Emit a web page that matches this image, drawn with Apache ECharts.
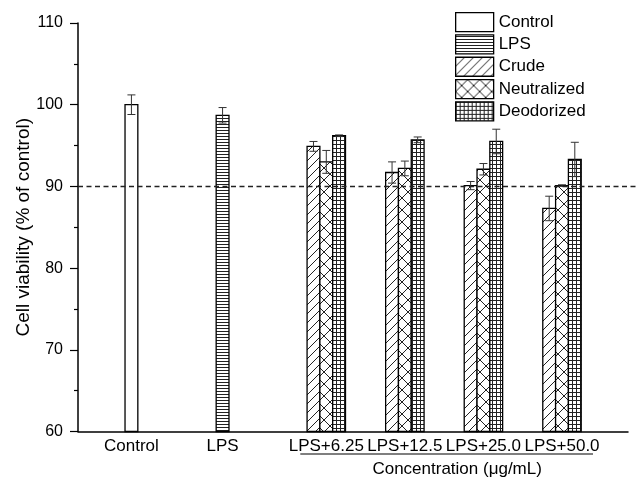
<!DOCTYPE html>
<html>
<head>
<meta charset="utf-8">
<script src="https://cdn.jsdelivr.net/npm/echarts@6/dist/echarts.min.js"></script>
<style>
html,body{margin:0;padding:0;background:#fff;}
#chart{width:638px;height:479px;}
</style>
</head>
<body>
<div id="chart"></div>
<script>
// ---- data ----
const categories = ['Control', 'LPS', 'LPS+6.25', 'LPS+12.5', 'LPS+25.0', 'LPS+50.0'];
const seriesNames = ['Control', 'LPS', 'Crude', 'Neutralized', 'Deodorized'];
const controlVal = [100.0];
const controlErr = [1.2];
const lpsVal = [98.7];
const lpsErr = [0.95];
const crudeVal = [94.9, 91.7, 90.1, 87.3];
const crudeErr = [0.6, 1.3, 0.5, 1.5];
const neutVal = [93.0, 92.2, 92.1, 90.1];
const neutErr = [1.4, 0.9, 0.7, 0.1];
const deodVal = [96.2, 95.7, 95.5, 93.3];
const deodErr = [0.1, 0.35, 1.5, 2.1];
const refValue = 90;
const yTicks = [60, 70, 80, 90, 100, 110];
const groupTitle = 'Concentration (\u03bcg/mL)';

// ---- layout (not data) ----
const xPos = [0.52, 1.68, 3, 4, 5, 6];
const barW = 0.163;
const FONT = "'Liberation Sans', Arial, sans-serif";

function makePattern(kind) {
  const c = document.createElement('canvas');
  let s = 4;
  if (kind === 'hline') s = 3;
  if (kind === 'diag') s = 9;
  if (kind === 'cross') s = 12;
  if (kind === 'grid') s = 4;
  c.width = s; c.height = s;
  const g = c.getContext('2d');
  g.fillStyle = '#fff';
  g.fillRect(0, 0, s, s);
  g.strokeStyle = '#222';
  g.lineWidth = 1;
  g.beginPath();
  if (kind === 'hline') {
    g.moveTo(0, 1.5); g.lineTo(s, 1.5);
  } else if (kind === 'diag') {
    g.moveTo(-1, s + 1); g.lineTo(s + 1, -1);
    g.moveTo(-1, 1); g.lineTo(1, -1);
    g.moveTo(s - 1, s + 1); g.lineTo(s + 1, s - 1);
  } else if (kind === 'cross') {
    g.moveTo(0, 0); g.lineTo(s, s);
    g.moveTo(0, s); g.lineTo(s, 0);
  } else if (kind === 'grid') {
    g.moveTo(0.5, 0); g.lineTo(0.5, s);
    g.moveTo(0, 0.5); g.lineTo(s, 0.5);
  }
  g.stroke();
  return { image: c, repeat: 'repeat' };
}

const patterns = [makePattern('none'), makePattern('hline'), makePattern('diag'), makePattern('cross'), makePattern('grid')];

function rows(catIdx, vals, errs, offset) {
  return vals.map((v, i) => [catIdx[i], v, errs[i], offset]);
}
const seriesData = [
  rows([0], controlVal, controlErr, 0),
  rows([1], lpsVal, lpsErr, 0),
  rows([2, 3, 4, 5], crudeVal, crudeErr, -1),
  rows([2, 3, 4, 5], neutVal, neutErr, 0),
  rows([2, 3, 4, 5], deodVal, deodErr, 1)
];

function makeRender(si) {
  return function (params, api) {
    const ci = api.value(0), v = api.value(1), e = api.value(2), off = api.value(3);
    const base = api.coord([xPos[ci], 60]);
    const top = api.coord([xPos[ci], v]);
    const w = api.size([barW, 0])[0];
    const cx = base[0] + off * w;
    const eh = api.coord([xPos[ci], v + e])[1];
    const el = api.coord([xPos[ci], v - e])[1];
    const cap = 4;
    const lineStyle = { stroke: '#333', lineWidth: 1 };
    return {
      type: 'group',
      children: [
        { type: 'rect', shape: { x: cx - w / 2, y: top[1], width: w, height: base[1] - top[1] },
          style: { fill: patterns[si], stroke: '#000', lineWidth: 1.3 } },
        { type: 'line', shape: { x1: cx, y1: eh, x2: cx, y2: el }, style: lineStyle },
        { type: 'line', shape: { x1: cx - cap, y1: eh, x2: cx + cap, y2: eh }, style: lineStyle },
        { type: 'line', shape: { x1: cx - cap, y1: el, x2: cx + cap, y2: el }, style: lineStyle }
      ]
    };
  };
}

const series = seriesNames.map((name, si) => ({
  name: name,
  type: 'custom',
  renderItem: makeRender(si),
  data: seriesData[si],
  itemStyle: { color: patterns[si], borderColor: '#000', borderWidth: 1.3 },
  encode: { x: 0, y: 1 },
  z: 2
}));

series.push({
  name: 'ref',
  type: 'custom',
  data: [[refValue]],
  z: 5,
  silent: true,
  renderItem: function (params, api) {
    const y = api.coord([0, api.value(0)])[1];
    const cs = params.coordSys;
    return {
      type: 'line',
      shape: { x1: cs.x, y1: y, x2: cs.x + cs.width + 10, y2: y },
      style: { stroke: '#222', lineWidth: 1.5, lineDash: [5, 3.5] }
    };
  },
  encode: { y: 0 }
});

const chart = echarts.init(document.getElementById('chart'), null, { renderer: 'canvas' });
const option = {
  animation: false,
  backgroundColor: '#fff',
  textStyle: { fontFamily: FONT },
  grid: { left: 78, right: 10, top: 23, bottom: 47.5, containLabel: false, outerBoundsMode: 'none' },
  legend: {
    orient: 'vertical',
    left: 455,
    top: 12,
    padding: 0,
    itemWidth: 38,
    itemHeight: 19,
    itemGap: 2,
    icon: 'rect',
    selectedMode: false,
    textStyle: { fontSize: 17, color: '#000', fontFamily: FONT, lineHeight: 19, padding: [0, 0, 0, 0] },
    data: seriesNames.map((n, i) => ({
      name: n,
      icon: 'rect',
      itemStyle: { color: patterns[i], borderColor: '#000', borderWidth: 1.3 }
    }))
  },
  xAxis: {
    type: 'value',
    min: -0.16,
    max: 6.84,
    splitLine: { show: false },
    axisTick: { show: false },
    axisLine: { show: true, onZero: false, lineStyle: { color: '#000', width: 1.5 } },
    axisLabel: {
      customValues: xPos,
      fontSize: 17,
      color: '#000',
      margin: 6,
      fontFamily: FONT,
      formatter: function (val) {
        let best = 0, bd = 1e9;
        xPos.forEach((p, i) => { const d = Math.abs(p - val); if (d < bd) { bd = d; best = i; } });
        return categories[best];
      }
    }
  },
  yAxis: {
    type: 'value',
    min: yTicks[0],
    max: yTicks[yTicks.length - 1],
    interval: 10,
    name: 'Cell viability (% of control)',
    nameLocation: 'middle',
    nameGap: 45,
    nameMoveOverlap: false,
    nameTextStyle: { fontSize: 19, color: '#000', fontFamily: FONT },
    splitLine: { show: false },
    axisLine: { show: true, onZero: false, lineStyle: { color: '#000', width: 1.5 } },
    axisTick: { show: true, length: 8, lineStyle: { color: '#000', width: 1.2 } },
    minorTick: { show: true, splitNumber: 2, length: 4, lineStyle: { color: '#000', width: 1.2 } },
    axisLabel: { fontSize: 16, color: '#000', margin: 15, fontFamily: FONT }
  },
  series: series
};
chart.setOption(option);

const xa = chart.convertToPixel({ xAxisIndex: 0 }, xPos[2]);
const xb = chart.convertToPixel({ xAxisIndex: 0 }, xPos[5]);
const ya = chart.convertToPixel({ yAxisIndex: 0 }, 60);
chart.setOption({
  graphic: [
    { type: 'line', shape: { x1: xa - 26, y1: ya + 22.5, x2: xb + 31, y2: ya + 22.5 },
      style: { stroke: '#000', lineWidth: 1.2 } },
    { type: 'text', x: (xa + xb) / 2 + 13, y: ya + 37.5,
      style: { text: groupTitle, fontSize: 17, fill: '#000', fontFamily: FONT, align: 'center', verticalAlign: 'middle' } }
  ]
});
</script>
</body>
</html>
